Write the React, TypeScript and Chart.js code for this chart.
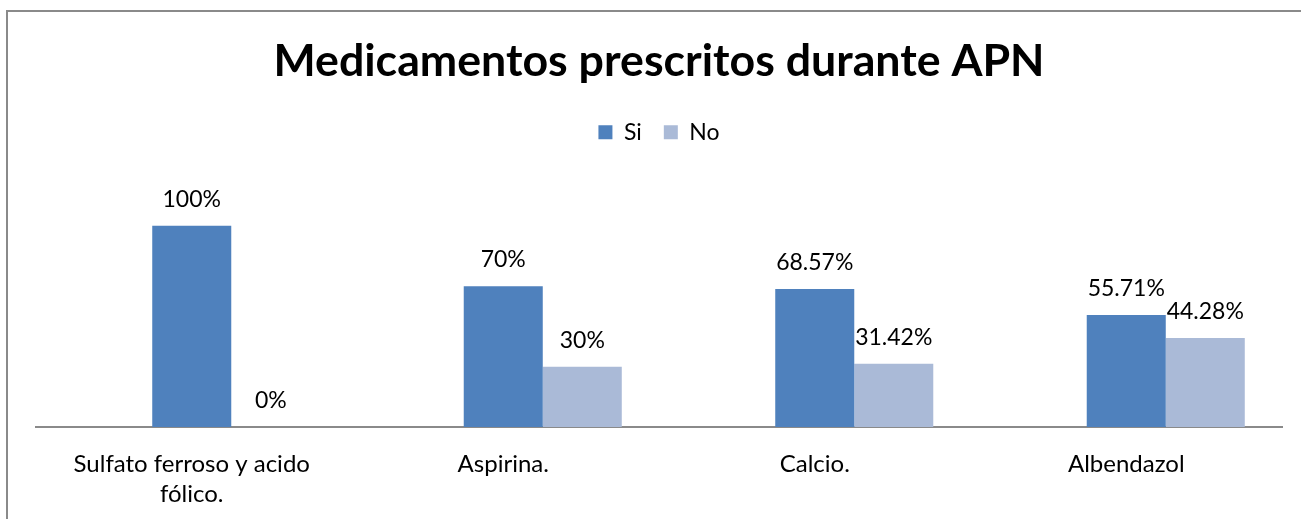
import React, { useEffect, useRef } from "react";
import { Chart, registerables } from "chart.js";

Chart.register(...registerables);

const categories: (string | string[])[] = [
  ["Sulfato ferroso y acido", "fólico."],
  "Aspirina.",
  "Calcio.",
  "Albendazol",
];
const spacerValues: (number | null)[] = [null, null, null, null];
const siValues: number[] = [100, 70, 68.57, 55.71];
const noValues: number[] = [0, 30, 31.42, 44.28];

const FONT = "Lato";

const valueLabels = {
  id: "valueLabels",
  afterDatasetsDraw(chart: any) {
    const ctx = chart.ctx;
    ctx.save();
    ctx.font = `23px ${FONT}`;
    ctx.fillStyle = "#000";
    ctx.textAlign = "center";
    ctx.textBaseline = "alphabetic";
    chart.data.datasets.forEach((ds: any, i: number) => {
      const meta = chart.getDatasetMeta(i);
      meta.data.forEach((el: any, j: number) => {
        const v = ds.data[j];
        if (v == null) return;
        ctx.fillText(`${v}%`, el.x, el.y - 19);
      });
    });
    ctx.restore();
  },
};

export default function App() {
  const ref = useRef<HTMLCanvasElement | null>(null);
  useEffect(() => {
    if (!ref.current) return;
    const chart = new Chart(ref.current, {
      type: "bar",
      data: {
        labels: categories,
        datasets: [
          { label: "", data: spacerValues, backgroundColor: "rgba(0,0,0,0)" },
          { label: "Si", data: siValues, backgroundColor: "#4F81BD" },
          { label: "No", data: noValues, backgroundColor: "#AABAD7" },
        ],
      },
      options: {
        animation: false,
        responsive: false,
        maintainAspectRatio: false,
        layout: { padding: { left: 36, right: 19, top: 0, bottom: 0 } },
        datasets: {
          bar: { categoryPercentage: 0.761, barPercentage: 1 },
        },
        plugins: {
          tooltip: { enabled: false },
          title: {
            display: true,
            text: "Medicamentos prescritos durante APN",
            color: "#000",
            weight: 2000,
            font: { family: FONT, size: 44.7, weight: "bold", lineHeight: 1.2 },
            padding: { top: 35, bottom: 10 },
          },
          legend: {
            display: true,
            position: "top",
            weight: 1750,
            labels: {
              filter: (item: any) => item.text !== "",
              boxWidth: 14,
              boxHeight: 14,
              color: "#000",
              padding: 22,
              font: { family: FONT, size: 23 },
            },
          },
          subtitle: {
            display: true,
            text: "",
            weight: 1500,
            font: { family: FONT, size: 1, lineHeight: 1 },
            padding: { top: 31, bottom: 0 },
          },
        },
        scales: {
          x: {
            grid: { display: false, drawTicks: false },
            border: { display: true, color: "#8A8A8A", width: 2 },
            ticks: {
              color: "#000",
              padding: 22,
              maxRotation: 0,
              autoSkip: false,
              font: { family: FONT, size: 24, lineHeight: 1.25 },
            },
            afterFit: (scale: any) => {
              scale.height = 92;
            },
          },
          y: {
            display: false,
            min: 0,
            max: 120,
          },
        },
      },
      plugins: [valueLabels],
    });
    return () => chart.destroy();
  }, []);

  return (
    <div
      style={{
        position: "fixed",
        left: 0,
        top: 0,
        width: 1301,
        height: 519,
        overflow: "hidden",
        background: "#fff",
      }}
    >
      <div
        style={{
          position: "absolute",
          left: 6,
          top: 10,
          width: 1400,
          height: 600,
          borderLeft: "2px solid #8A8A8A",
          borderTop: "2px solid #8A8A8A",
        }}
      />
      <canvas
        ref={ref}
        width={1301}
        height={519}
        style={{ position: "absolute", left: 0, top: 0, width: 1301, height: 519 }}
      />
    </div>
  );
}
